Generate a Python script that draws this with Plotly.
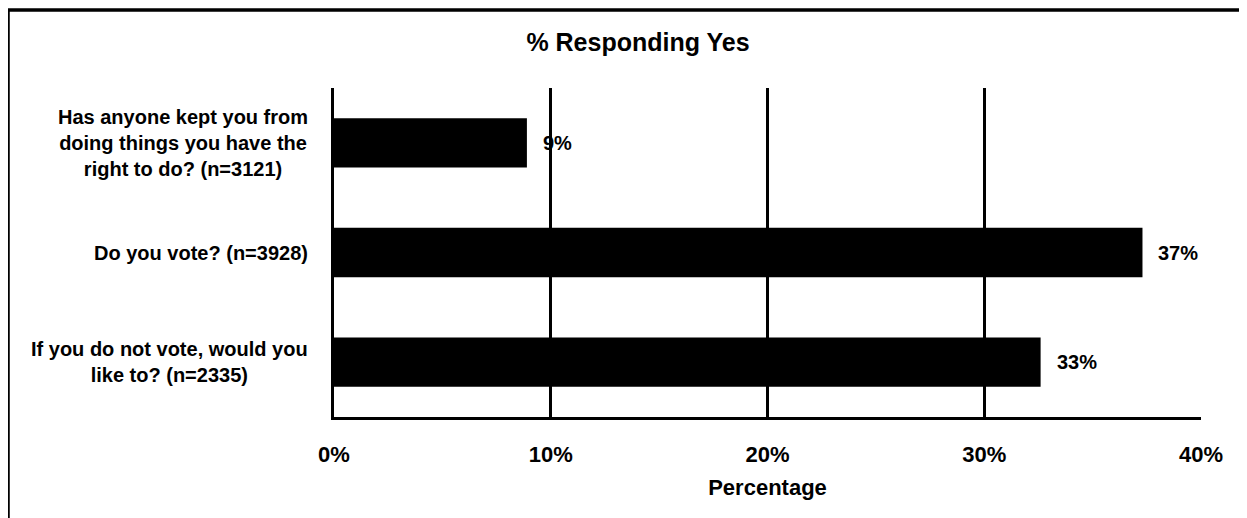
import plotly.graph_objects as go

# ---- data ----
categories = [
    "Has anyone kept you from<br>doing things you have the<br>right to do? (n=3121)",
    "Do you vote? (n=3928)",
    "If you do not vote, would you<br>like to? (n=2335)",
]
cat_keys = ["q1", "q2", "q3"]
values = [8.9, 37.3, 32.6]
value_labels = ["9%", "37%", "33%"]
x_ticks = [0, 10, 20, 30, 40]
x_tick_labels = ["0%", "10%", "20%", "30%", "40%"]

FONT = "Liberation Sans, Arial, sans-serif"

fig = go.Figure()
fig.add_trace(go.Bar(
    x=values, y=cat_keys, orientation="h",
    marker=dict(color="black", line=dict(width=0)),
    width=0.45, hoverinfo="skip",
))

annotations = []
# category labels (centered multi-line)
for key, lab in zip(cat_keys, categories):
    annotations.append(dict(
        x=0, xref="paper", xshift=-24, xanchor="right",
        y=key, yref="y", yanchor="middle",
        text="<b>" + lab + "</b>", showarrow=False, align="center",
        font=dict(family=FONT, size=20, color="black"),
    ))
# value labels
for key, v, lab in zip(cat_keys, values, value_labels):
    annotations.append(dict(
        x=v, xref="x", xshift=14, xanchor="left",
        y=key, yref="y", yanchor="middle",
        text="<b>" + lab + "</b>", showarrow=False,
        font=dict(family=FONT, size=20, color="black"),
    ))

fig.update_layout(
    width=1239, height=510,
    margin=dict(l=326, r=46, t=80, b=101),
    paper_bgcolor="white", plot_bgcolor="white",
    showlegend=False,
    title=dict(
        text="<b>% Responding Yes</b>",
        x=(638 - 8) / 1239, xref="container", xanchor="center",
        y=1 - (42 - 8) / 510, yref="container", yanchor="middle",
        font=dict(family=FONT, size=25, color="black"),
    ),
    xaxis=dict(
        range=[0, 40], tickvals=x_ticks, ticktext=["<b>%s</b>" % t for t in x_tick_labels],
        showgrid=True, gridcolor="black", gridwidth=3,
        showline=True, linecolor="black", linewidth=3,
        zeroline=False, ticks="", ticklabelstandoff=16,
        tickfont=dict(family=FONT, size=22, color="black"),
        title=dict(text="<b>Percentage</b>", standoff=14,
                   font=dict(family=FONT, size=22, color="black")),
        fixedrange=True,
    ),
    yaxis=dict(
        categoryorder="array", categoryarray=cat_keys, autorange="reversed",
        showticklabels=False, showgrid=False,
        showline=True, linecolor="black", linewidth=3,
        zeroline=False, ticks="", fixedrange=True,
    ),
    annotations=annotations,
    shapes=[dict(
        type="rect", xref="paper", yref="paper",
        x0=-0.376, x1=1.08, y0=-0.36, y1=1.237,
        line=dict(color="black", width=3.5), fillcolor="rgba(0,0,0,0)",
        layer="below",
    )],
)

fig.write_html("out.html")
